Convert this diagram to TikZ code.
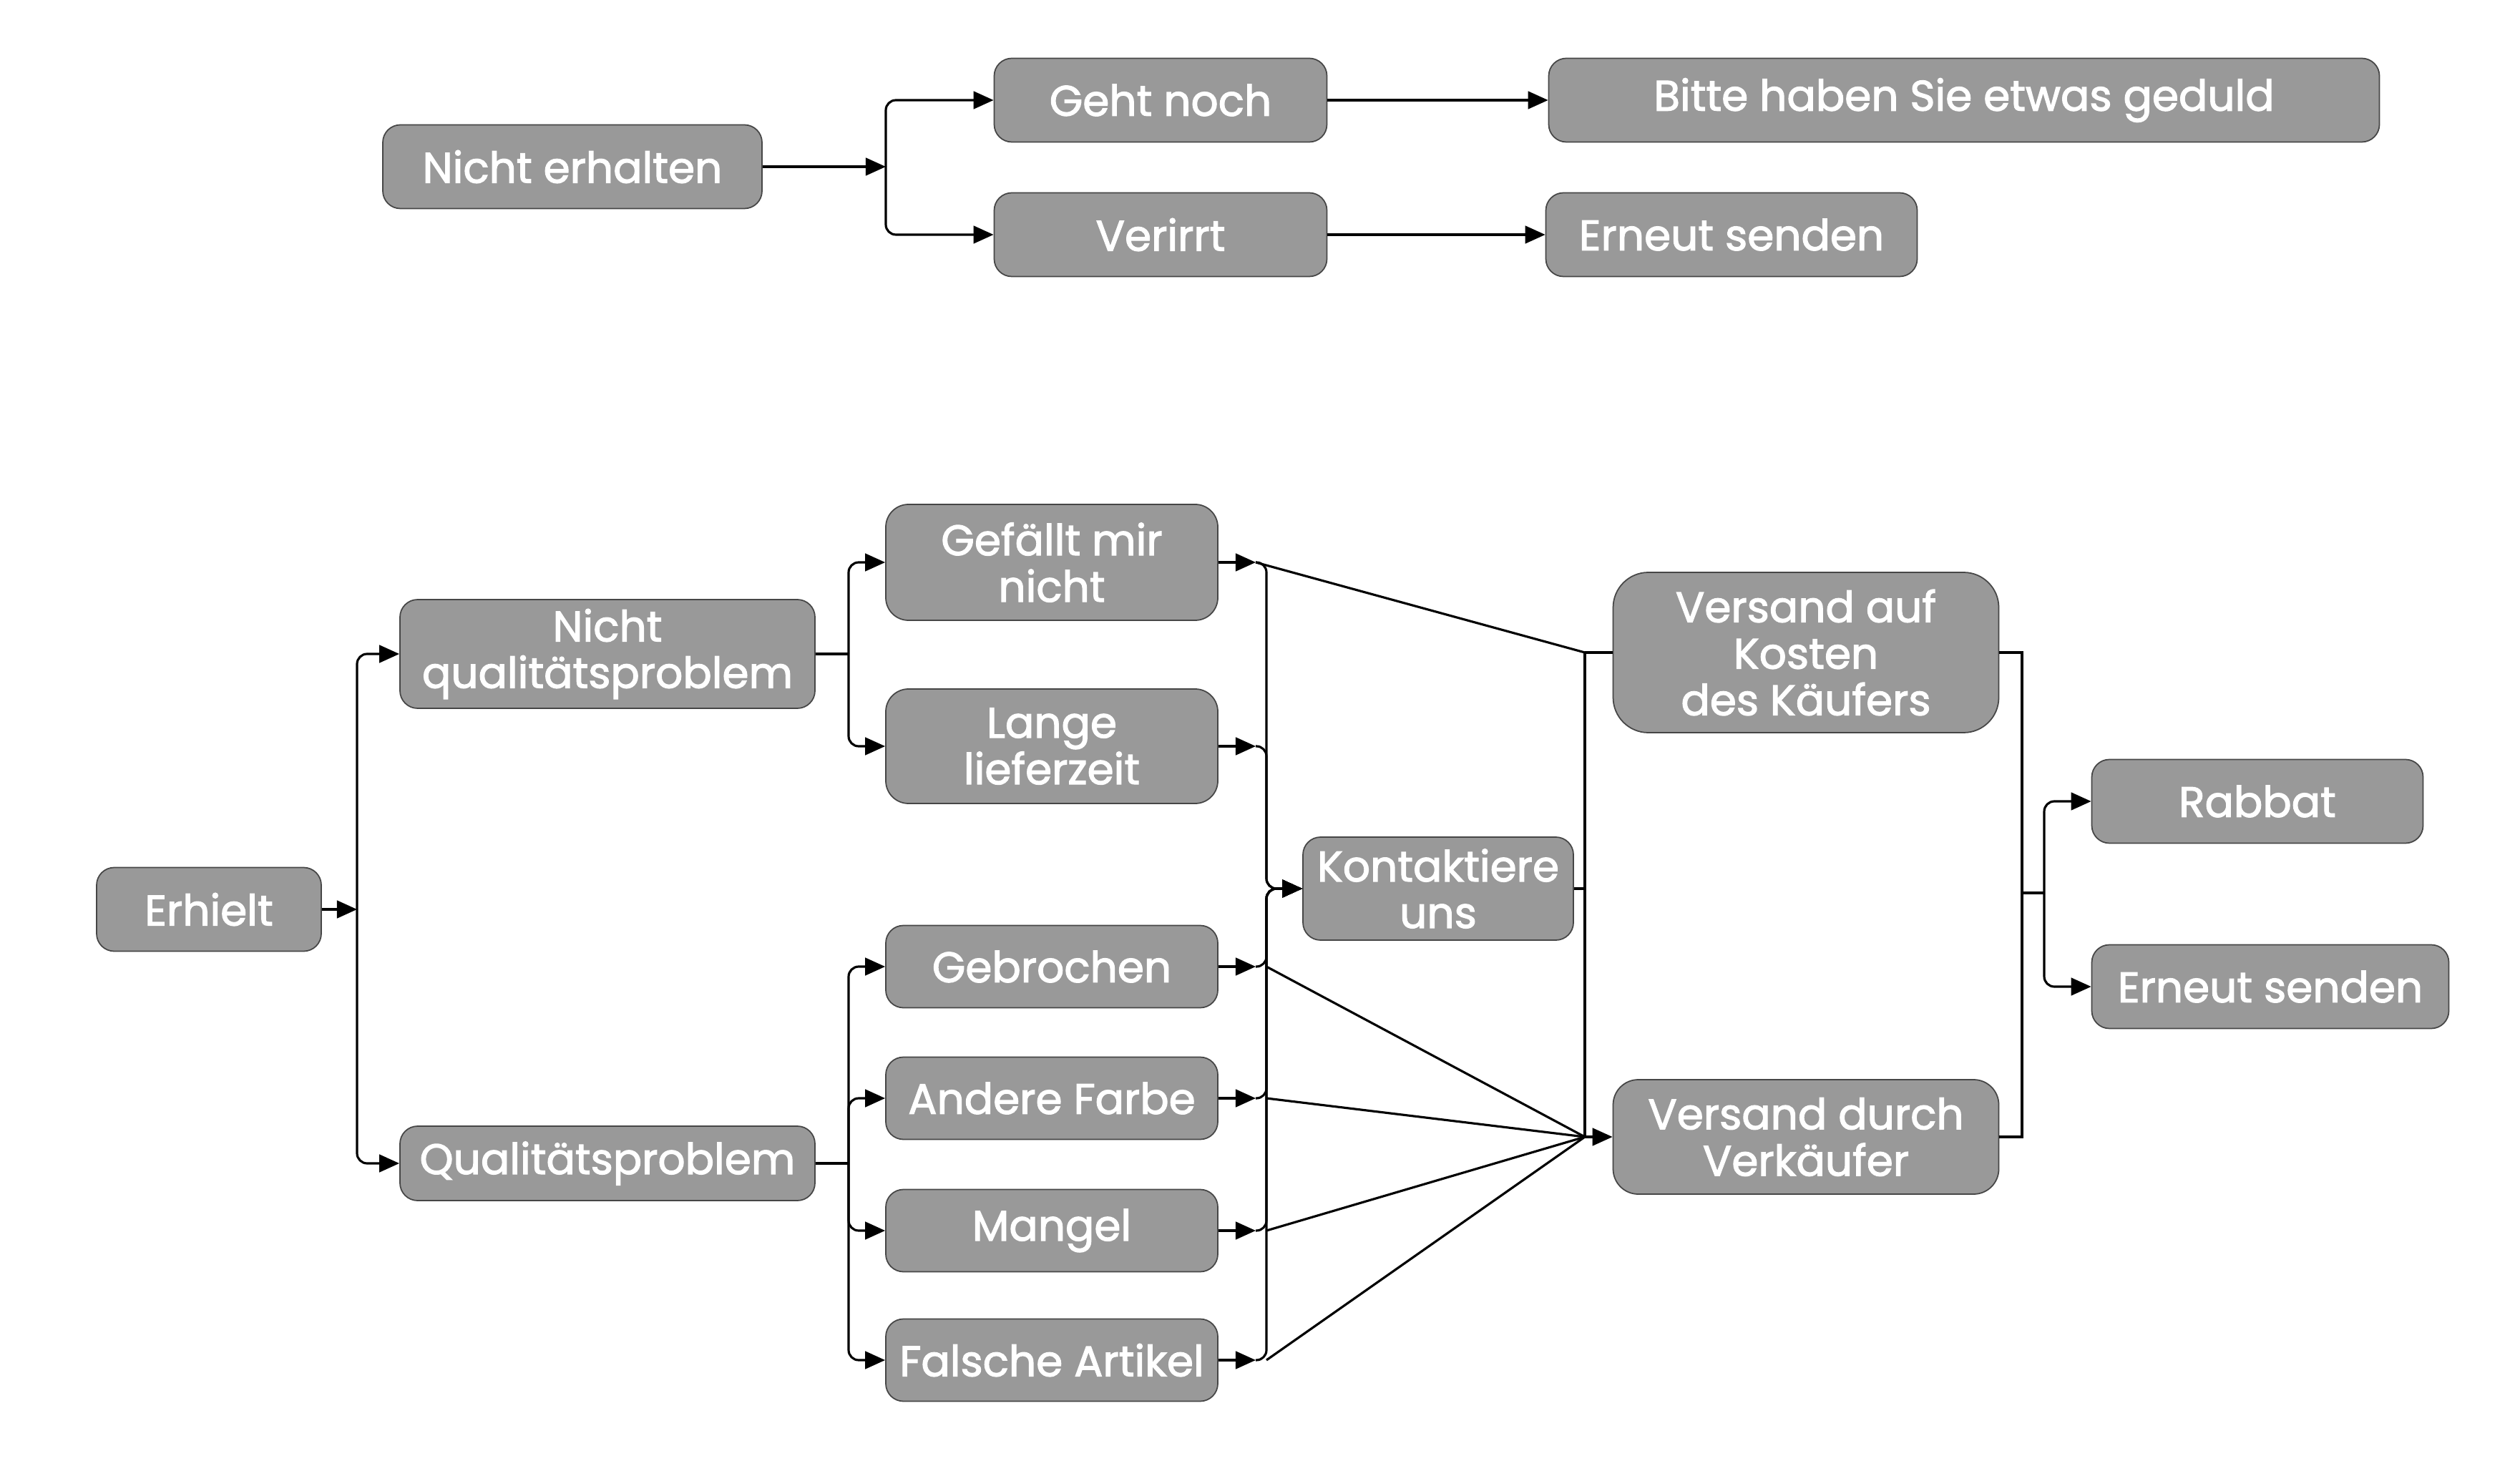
\documentclass[tikz,border=0pt]{standalone}
\usepackage{fontspec}
\setmainfont{Poppins}
\newfontfamily\boxfont{Poppins}[FakeBold=2]
\usepackage{xcolor}
\usetikzlibrary{arrows.meta}
\definecolor{boxgray}{RGB}{153,153,153}
\definecolor{boxline}{RGB}{70,70,70}

\begin{document}
\begin{tikzpicture}[
    box/.style={draw=boxline, line width=0.5pt, fill=boxgray, rounded corners=7pt,
                inner sep=0pt, font=\boxfont\fontsize{17}{18.5}\selectfont,
                text=white, align=center},
    line/.style={line width=0.9pt, color=black},
    arrow/.style={line, -{Triangle[length=8pt,width=7pt]}},
    elbow/.style={rounded corners=4pt}
]
\fill[white] (0,0) rectangle (35.22,-20.42);
\useasboundingbox (0,0) rectangle (35.22,-20.42);

% not received
\node[box, minimum width=5.30cm, minimum height=1.17cm] (nerh) at (8.00,-2.33) {Nicht erhalten};
\node[box, minimum width=4.65cm, minimum height=1.17cm] (geht) at (16.22,-1.40) {Geht noch};
\node[box, minimum width=4.65cm, minimum height=1.17cm] (verirrt) at (16.22,-3.28) {Verirrt};
\node[box, minimum width=11.61cm, minimum height=1.17cm] (bitte) at (27.45,-1.40) {Bitte haben Sie etwas geduld};
\node[box, minimum width=5.19cm, minimum height=1.17cm] (erneutA) at (24.20,-3.28) {Erneut senden};

% received
\node[box, minimum width=3.14cm, minimum height=1.17cm] (erhielt) at (2.92,-12.71) {Erhielt};
\node[box, minimum width=5.80cm, minimum height=1.52cm] (nq) at (8.49,-9.14) {Nicht\\qualitätsproblem};
\node[box, minimum width=5.80cm, minimum height=1.04cm] (qp) at (8.49,-16.26) {Qualitätsproblem};
\node[box, minimum width=4.64cm, minimum height=1.62cm, rounded corners=9pt] (gef) at (14.70,-7.86) {Gefällt mir\\nicht};
\node[box, minimum width=4.64cm, minimum height=1.60cm, rounded corners=9pt] (lange) at (14.70,-10.43) {Lange\\lieferzeit};
\node[box, minimum width=4.64cm, minimum height=1.15cm] (gebr) at (14.70,-13.51) {Gebrochen};
\node[box, minimum width=4.64cm, minimum height=1.15cm] (farbe) at (14.70,-15.35) {Andere Farbe};
\node[box, minimum width=4.64cm, minimum height=1.15cm] (mangel) at (14.70,-17.20) {Mangel};
\node[box, minimum width=4.64cm, minimum height=1.15cm] (falsch) at (14.70,-19.01) {Falsche Artikel};
\node[box, minimum width=3.78cm, minimum height=1.44cm] (kont) at (20.10,-12.42) {Kontaktiere\\uns};
\node[box, minimum width=5.39cm, minimum height=2.24cm, rounded corners=14pt] (vkost) at (25.24,-9.12) {Versand auf\\Kosten\\des Käufers};
\node[box, minimum width=5.39cm, minimum height=1.60cm, rounded corners=10pt] (vverk) at (25.24,-15.89) {Versand durch\\Verkäufer};
\node[box, minimum width=4.63cm, minimum height=1.17cm] (rabbat) at (31.55,-11.20) {Rabbat};
\node[box, minimum width=4.99cm, minimum height=1.17cm] (erneutB) at (31.73,-13.79) {Erneut senden};

% junction points
\coordinate (jtop) at (12.38,-2.33);
\coordinate (jerh) at (4.99,-12.71);
\coordinate (jq) at (11.86,0);
\coordinate (jl) at (17.55,0);
\coordinate (jv) at (17.70,0);
\coordinate (jk) at (22.15,0);
\coordinate (jr) at (28.26,0);
\coordinate (jmid) at (28.26,-12.48);
\coordinate (jr2) at (28.57,-12.48);

\draw[arrow] (nerh) -- (jtop);
\draw[arrow, elbow] (jtop) |- (geht.west);
\draw[arrow, elbow] (jtop) |- (verirrt.west);
\draw[arrow] (geht) -- (bitte);
\draw[arrow] (verirrt) -- (erneutA);

\draw[arrow] (erhielt) -- (jerh);
\draw[arrow, elbow] (jerh) |- (nq.west);
\draw[arrow, elbow] (jerh) |- (qp.west);

\draw[line] (nq.east) -- (nq.east -| jq);
\draw[arrow, elbow] (nq.east -| jq) |- (gef.west);
\draw[arrow, elbow] (nq.east -| jq) |- (lange.west);
\draw[line] (qp.east) -- (qp.east -| jq);
\draw[arrow, elbow] (qp.east -| jq) |- (gebr.west);
\draw[arrow, elbow] (qp.east -| jq) |- (farbe.west);
\draw[arrow, elbow] (qp.east -| jq) |- (mangel.west);
\draw[arrow, elbow] (qp.east -| jq) |- (falsch.west);

\draw[arrow] (gef.east) -- (gef.east -| jl);
\draw[arrow] (lange.east) -- (lange.east -| jl);
\draw[arrow] (gebr.east) -- (gebr.east -| jl);
\draw[arrow] (farbe.east) -- (farbe.east -| jl);
\draw[arrow] (mangel.east) -- (mangel.east -| jl);
\draw[arrow] (falsch.east) -- (falsch.east -| jl);
\draw[arrow, elbow] (gef.east -| jl) -| (kont.west -| jv) -- (kont.west);
\draw[arrow, elbow] (lange.east -| jl) -| (kont.west -| jv) -- (kont.west);
\draw[arrow, elbow] (gebr.east -| jl) -| (kont.west -| jv) -- (kont.west);
\draw[arrow, elbow] (farbe.east -| jl) -| (kont.west -| jv) -- (kont.west);
\draw[arrow, elbow] (mangel.east -| jl) -| (kont.west -| jv) -- (kont.west);
\draw[arrow, elbow] (falsch.east -| jl) -| (kont.west -| jv) -- (kont.west);

\draw[line] (gef.east -| jl) -- (vkost.west -| jk);
\draw[line] (gebr.east -| jv) -- (vverk.west -| jk);
\draw[line] (farbe.east -| jv) -- (vverk.west -| jk);
\draw[line] (mangel.east -| jv) -- (vverk.west -| jk);
\draw[line] (falsch.east -| jv) -- (vverk.west -| jk);

\draw[line] (kont.east) -- (kont.east -| jk);
\draw[line] (vkost.west -| jk) -- (vverk.west -| jk);
\draw[line] (vkost.west -| jk) -- (vkost.west);
\draw[arrow] (vverk.west -| jk) -- (vverk.west);

\draw[line] (vkost.east) -- (vkost.east -| jr) -- (vverk.east -| jr) -- (vverk.east);
\draw[line] (jmid) -- (jr2);
\draw[arrow, elbow] (jr2) |- (rabbat.west);
\draw[arrow, elbow] (jr2) |- (erneutB.west);
\end{tikzpicture}
\end{document}
